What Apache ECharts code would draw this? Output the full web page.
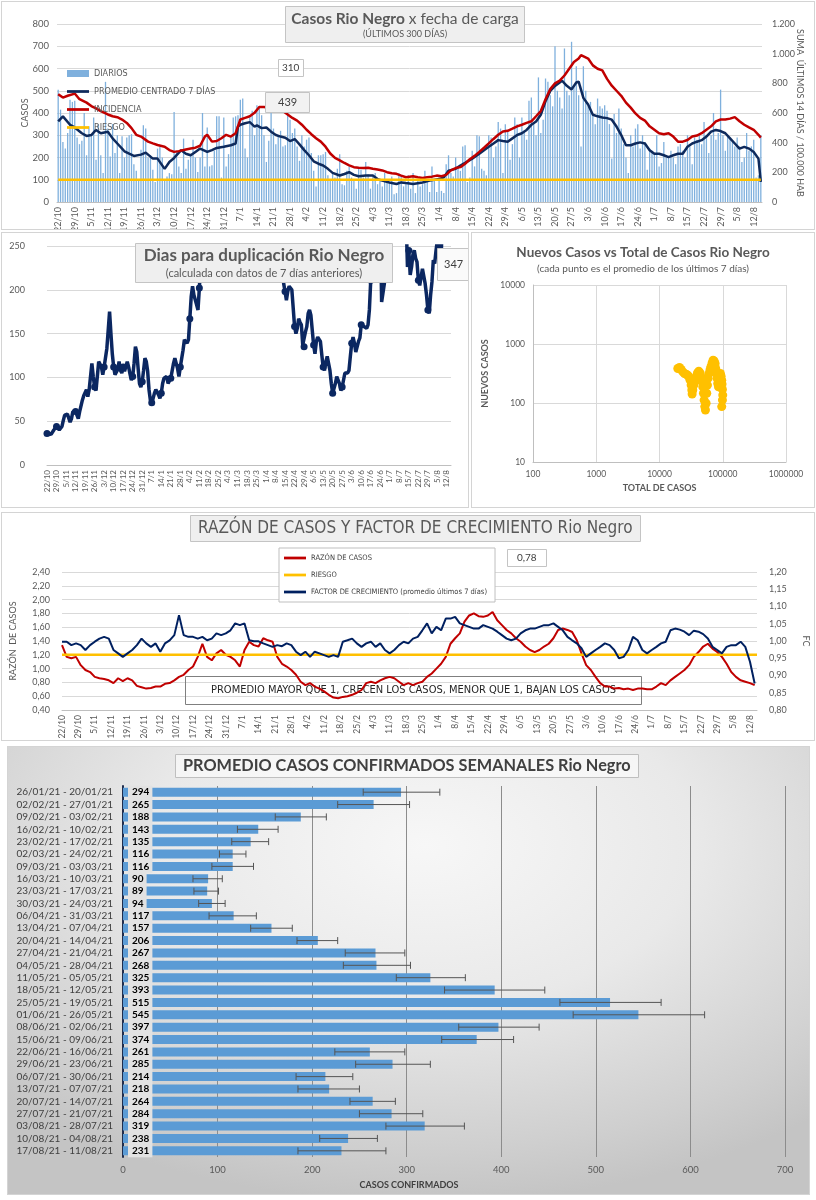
<!DOCTYPE html>
<html><head><meta charset="utf-8">
<script src="https://cdn.jsdelivr.net/npm/echarts@6/dist/echarts.min.js"></script>
<style>
body{margin:0;background:#fff;width:816px;height:1200px;position:relative;overflow:hidden}
.p{position:absolute;border:1px solid #d4d4d4;box-sizing:border-box;background:#fff}
#c5{background:radial-gradient(ellipse 75% 80% at 52% 22%, #f7f7f7 0%, #e9e9e9 45%, #cfcfcf 85%, #c4c4c4 100%)}
</style></head><body>
<div id="c1" class="p" style="left:1px;top:1px;width:814px;height:229px"></div>
<div id="c2" class="p" style="left:1px;top:232px;width:468px;height:276px"></div>
<div id="c3" class="p" style="left:471px;top:232px;width:344px;height:276px"></div>
<div id="c4" class="p" style="left:1px;top:512px;width:814px;height:229px"></div>
<div id="c5" class="p" style="left:7px;top:746px;width:803px;height:449px"></div>
<script>
// ---------- DATA ----------
const N_DAYS = 298; // 22/10/2020 .. 15/08/2021
const dates = [];
for (let i = 0; i < N_DAYS; i++) { const d = new Date(Date.UTC(2020, 9, 22 + i)); dates.push(d.getUTCDate() + '/' + (d.getUTCMonth() + 1)); }

// Panel 1: daily cases
const dailyCases = [
505,415,270,240,310,460,450, 455,290,260,275,400,210,340, 300,380,190,350,210,130,540,
330,205,350,220,300,130,295, 200,290,300,305,170,140,100, 235,345,330,200,210,145,90,
240,250,200,100,115,130,125, 405,230,160,130,285,150,190, 210,280,200,135,200,400,160,
335,160,165,230,385,385,110, 380,160,215,300,380,385,390, 460,465,240,200,380,410,300,
435,425,390,300,180,275,405, 330,260,300,320,250,255,445, 370,310,330,250,185,300,250,
280,290,220,140,70,210,210, 215,225,120,95,130,110,150, 215,80,75,140,160,110,95,
60,150,145,110,180,125,60, 115,130,80,95,70,130,100, 90,115,35,40,130,120,70,
85,120,60,130,40,100,70, 80,140,100,45,160,95,45, 110,50,40,170,210,130,115,
200,160,140,250,255,90,110, 230,160,300,295,150,140,120, 300,290,200,250,360,330,130,
350,320,190,260,380,350,200, 380,320,280,455,470,360,300, 560,310,370,555,540,480,430,
700,500,470,420,690,500,480, 720,520,610,480,250,610,500, 430,450,390,350,465,430,420,
435,410,350,195,395,310,420, 330,260,200,130,300,250,330, 350,240,300,270,145,240,230,
215,300,160,175,270,200,200, 230,200,170,250,260,230,200, 300,250,170,290,280,300,260,
360,300,220,300,400,280,310, 505,300,230,300,290,270,250, 290,250,180,200,310,230,250,
280,110,120,300];
// 7-day centred average [dayIndex, value]
const avg7 = [[0,362],[2,385],[5,347],[7,335],[10,309],[12,297],[14,301],[16,324],[18,309],[21,316],[23,286],[25,263],[27,240],[28,228],[30,217],[32,207],[35,213],[37,222],[40,195],[42,195],[45,149],[47,180],[49,198],[52,233],[54,217],[56,210],[58,225],[60,240],[63,225],[65,233],[67,243],[70,248],[73,255],[75,263],[76,339],[77,347],[79,354],[81,359],[83,339],[84,344],[86,332],[88,335],[90,316],[92,301],[94,294],[96,289],[98,274],[100,283],[102,259],[104,233],[106,210],[108,183],[110,172],[112,164],[114,149],[116,131],[119,119],[121,126],[123,134],[125,122],[127,116],[130,119],[133,119],[135,103],[137,96],[140,88],[143,81],[145,88],[147,85],[150,81],[154,88],[157,96],[161,103],[163,111],[165,141],[168,149],[170,164],[172,176],[175,195],[178,217],[180,233],[182,248],[184,263],[186,278],[188,274],[190,271],[192,286],[194,301],[196,309],[198,324],[200,347],[202,362],[204,392],[206,453],[208,499],[210,522],[212,537],[213,545],[215,522],[217,506],[219,537],[220,541],[222,468],[224,438],[226,392],[228,385],[230,380],[232,377],[234,370],[236,339],[238,301],[240,255],[242,255],[244,263],[246,268],[248,263],[250,233],[252,217],[254,217],[256,210],[258,202],[260,210],[262,217],[264,217],[266,248],[268,263],[270,271],[272,278],[274,294],[276,316],[278,324],[280,319],[282,309],[284,286],[286,263],[288,240],[290,248],[292,240],[294,225],[296,195],[297,90]];
// incidence per 100.000 (right axis) [dayIndex, value]
const incidencia = [[0,727],[2,704],[4,716],[7,731],[9,693],[12,670],[14,647],[16,631],[18,613],[21,590],[23,578],[25,572],[27,556],[29,533],[31,498],[33,453],[35,441],[38,407],[40,395],[42,384],[45,373],[47,350],[49,338],[51,343],[53,350],[56,361],[58,366],[60,379],[62,441],[63,453],[65,407],[67,411],[69,430],[71,453],[73,441],[75,464],[77,556],[79,567],[81,578],[83,601],[85,640],[87,640],[89,636],[91,631],[93,624],[95,613],[97,590],[99,567],[101,549],[103,521],[105,487],[107,457],[109,430],[111,407],[113,373],[115,327],[117,297],[119,281],[121,263],[123,247],[125,235],[127,231],[129,229],[131,231],[133,224],[135,219],[137,213],[139,201],[141,194],[143,190],[145,178],[147,167],[150,174],[152,167],[154,162],[156,167],[158,171],[160,178],[162,174],[164,183],[166,213],[168,229],[170,235],[172,258],[174,288],[176,311],[178,338],[180,366],[182,395],[184,425],[186,453],[188,475],[190,480],[192,494],[194,510],[196,521],[198,533],[200,544],[202,578],[204,613],[206,693],[208,761],[210,800],[212,818],[214,853],[216,898],[218,944],[220,967],[221,990],[224,967],[226,921],[228,898],[230,887],[232,830],[234,784],[236,750],[238,716],[240,670],[242,636],[244,597],[246,567],[248,549],[250,510],[252,487],[254,464],[256,457],[258,464],[260,441],[262,407],[264,407],[266,418],[268,441],[270,448],[272,464],[274,487],[276,510],[278,544],[280,556],[282,556],[284,562],[286,572],[288,544],[290,521],[292,503],[294,487],[296,453],[297,434]];
const riesgoCasos = [[0,100],[297,100]];

// Panel 2: doubling days [dayIndex, value] (values > 250 run off the top)
const duplicacion = [[0,36],[1,34],[3,35],[5,40],[7,44],[9,40],[11,44],[12,51],[13,57],[15,58],[17,49],[18,53],[19,61],[21,61],[22,60],[23,53],[24,61],[26,74],[27,79],[29,86],[30,78],[31,86],[32,101],[33,116],[34,101],[35,89],[36,85],[37,101],[38,118],[39,120],[40,112],[41,103],[42,112],[43,112],[44,133],[45,154],[46,175],[47,150],[48,127],[49,112],[50,103],[51,105],[52,109],[53,118],[54,108],[55,105],[56,112],[57,107],[58,108],[59,118],[60,112],[61,104],[62,97],[63,101],[64,116],[65,135],[66,129],[67,110],[68,93],[69,89],[70,95],[71,108],[72,122],[73,118],[74,107],[75,86],[76,74],[77,71],[78,76],[79,82],[80,86],[81,88],[82,80],[83,76],[84,82],[85,93],[86,99],[87,97],[88,101],[89,93],[90,92],[91,99],[92,101],[93,116],[94,122],[95,116],[96,110],[97,101],[98,112],[99,114],[100,131],[101,143],[102,145],[103,139],[104,143],[105,167],[106,192],[107,204],[108,194],[109,194],[110,183],[111,177],[112,202],[113,230],[114,290],[120,380],[130,450],[140,520],[150,480],[160,420],[170,330],[173,270],[174,207],[175,198],[176,188],[177,198],[178,204],[179,202],[180,200],[181,179],[182,158],[183,150],[184,156],[185,167],[186,163],[187,160],[188,137],[189,135],[190,152],[191,158],[192,173],[193,177],[194,171],[195,154],[196,137],[197,127],[198,141],[199,146],[200,148],[201,141],[202,126],[203,112],[204,108],[205,118],[206,124],[207,122],[208,108],[209,93],[210,82],[211,84],[212,93],[213,101],[214,99],[215,93],[216,85],[217,89],[218,97],[219,105],[220,107],[221,105],[222,108],[223,124],[224,139],[225,146],[226,139],[227,129],[228,127],[229,141],[230,145],[231,160],[232,162],[233,158],[234,158],[235,156],[236,160],[237,177],[238,211],[239,245],[240,290],[242,340],[244,320],[245,280],[246,186],[247,185],[248,207],[249,232],[250,275],[255,330],[260,360],[264,280],[265,226],[266,245],[267,217],[268,226],[269,240],[270,245],[271,236],[272,232],[273,211],[274,205],[275,207],[276,224],[277,226],[278,207],[279,194],[280,177],[281,173],[282,194],[283,209],[284,234],[285,230],[286,245],[287,257],[288,249],[289,250],[290,248],[291,347]];

// Panel 3: [total cases, new cases (7-day avg)]
const nuevosVsTotal = [[19460,384],[20700,399],[22000,369],[23350,337],[24830,316],[26360,308],[28000,296],[29040,278],[30480,244],[31620,201],[32430,166],[32810,142],[33590,166],[34830,201],[36140,229],[37930,278],[39810,324],[41790,346],[43850,324],[45500,278],[47210,229],[48310,188],[49550,146],[50700,112],[52000,87],[53210,76],[54580,99],[55850,146],[57280,201],[58610,261],[60810,316],[63100,369],[65460,421],[67920,479],[70310,531],[72950,517],[75680,467],[77450,384],[79430,316],[81470,261],[83370,214],[85510,188],[87500,229],[89740,278],[91830,316],[94190,285],[96390,244],[97500,209],[98850,170],[100000,136],[98850,112],[96390,87]];

// Panel 4: values every 2nd day (day = 2*i)
const razonCasos = [1.34,1.17,1.15,1.17,1.05,0.98,0.95,0.88,0.86,0.85,0.83,0.79,0.86,0.82,0.86,0.83,0.75,0.73,0.71,0.72,0.74,0.74,0.78,0.79,0.83,0.88,0.91,0.98,1.03,1.17,1.36,1.17,1.12,1.22,1.27,1.20,1.17,1.12,1.03,1.27,1.39,1.34,1.32,1.44,1.41,1.39,1.17,1.07,1.03,0.98,0.91,0.81,0.76,0.79,0.74,0.71,0.67,0.62,0.58,0.57,0.59,0.60,0.62,0.65,0.69,0.79,0.81,0.79,0.83,0.86,0.88,0.86,0.81,0.76,0.79,0.76,0.79,0.81,0.88,0.93,1.00,1.07,1.17,1.36,1.44,1.51,1.68,1.77,1.80,1.76,1.75,1.77,1.82,1.70,1.63,1.56,1.51,1.44,1.39,1.32,1.27,1.24,1.27,1.32,1.36,1.44,1.56,1.58,1.56,1.53,1.41,1.22,1.05,0.98,0.88,0.79,0.74,0.74,0.71,0.72,0.70,0.71,0.69,0.71,0.71,0.70,0.70,0.74,0.79,0.76,0.83,0.88,0.93,0.98,1.05,1.17,1.24,1.32,1.36,1.29,1.24,1.17,1.07,0.95,0.88,0.83,0.81,0.79,0.76];
const factorCrec = [0.998,0.998,0.988,0.993,0.988,0.974,0.988,0.998,1.007,1.012,1.007,0.974,0.964,0.954,0.964,0.974,0.988,1.007,0.993,0.983,0.993,0.969,0.993,1.002,1.017,1.075,1.017,1.012,1.012,1.007,1.012,1.002,1.007,1.022,1.017,1.022,1.031,1.051,1.046,1.051,1.002,0.999,0.999,0.993,0.988,0.983,0.988,0.985,0.993,0.988,0.969,0.959,0.969,0.954,0.969,0.964,0.959,0.954,0.959,0.954,0.998,1.002,1.007,0.993,0.983,0.993,0.998,0.983,0.993,0.974,0.964,0.974,0.988,0.998,0.993,1.007,1.012,1.031,1.051,1.022,1.041,1.031,1.065,1.065,1.070,1.051,1.046,1.041,1.036,1.036,1.046,1.041,1.036,1.027,1.017,1.007,1.002,1.007,1.022,1.031,1.036,1.036,1.041,1.046,1.046,1.051,1.041,1.031,1.012,1.002,0.993,0.979,0.954,0.964,0.974,0.983,0.993,0.988,0.974,0.950,0.954,0.974,1.012,1.002,0.974,0.964,0.974,0.983,0.993,0.998,1.031,1.036,1.033,1.027,1.017,1.030,1.027,1.020,1.007,0.983,0.974,0.964,0.983,0.988,0.988,0.998,0.983,0.940,0.877];
const riesgoRazon = [[0,1.2],[297,1.2]];

// Panel 5
const semanas = ['26/01/21 - 20/01/21','02/02/21 - 27/01/21','09/02/21 - 03/02/21','16/02/21 - 10/02/21','23/02/21 - 17/02/21','02/03/21 - 24/02/21','09/03/21 - 03/03/21','16/03/21 - 10/03/21','23/03/21 - 17/03/21','30/03/21 - 24/03/21','06/04/21 - 31/03/21','13/04/21 - 07/04/21','20/04/21 - 14/04/21','27/04/21 - 21/04/21','04/05/21 - 28/04/21','11/05/21 - 05/05/21','18/05/21 - 12/05/21','25/05/21 - 19/05/21','01/06/21 - 26/05/21','08/06/21 - 02/06/21','15/06/21 - 09/06/21','22/06/21 - 16/06/21','29/06/21 - 23/06/21','06/07/21 - 30/06/21','13/07/21 - 07/07/21','20/07/21 - 14/07/21','27/07/21 - 21/07/21','03/08/21 - 28/07/21','10/08/21 - 04/08/21','17/08/21 - 11/08/21'];
const promedioSemanal = [294,265,188,143,135,116,116,90,89,94,117,157,206,267,268,325,393,515,545,397,374,261,285,214,218,264,284,319,238,231];
const errorBajo = [254,227,161,121,115,102,94,74,75,80,91,135,184,235,233,289,340,462,476,355,337,224,246,183,185,240,250,278,208,185];
const errorAlto = [335,303,215,164,154,130,138,105,101,108,141,179,227,298,304,362,446,569,615,440,413,298,325,243,250,288,317,361,269,278];

// ---------- CHARTS ----------
const FONT = "Lato, 'Noto Sans', sans-serif";
const NARROW = "'Liberation Sans Narrow', 'DejaVu Sans Condensed', sans-serif";
const GRAY = '#595959';
const LINE_ICON = 'path://M0 0H40V5H0Z';
const comma2 = v => v.toFixed(2).replace('.', ',');
const thousands = v => String(v).replace(/\B(?=(\d{3})+(?!\d))/g, '.');
const every2 = arr => arr.map((v, i) => [i * 2, v]);
const dateAxis = (boundaryGap, fs) => ({
  type: 'category', data: dates, boundaryGap,
  axisLine: { lineStyle: { color: '#bfbfbf' } }, axisTick: { show: false },
  axisLabel: { interval: 6, rotate: 90, fontSize: fs, color: GRAY, margin: 5, fontFamily: FONT }
});

// Panel 1
echarts.init(document.getElementById('c1')).setOption({
  animation: false, textStyle: { fontFamily: FONT },
  title: [
    { text: '{b|Casos Rio Negro} x fecha de carga', subtext: '(ÚLTIMOS 300 DÍAS)', left: 397, top: 4, textAlign: 'center',
      backgroundColor: '#efefef', borderColor: '#c4c4c4', borderWidth: 1, padding: [5, 6, 4, 6], itemGap: 3,
      textStyle: { fontSize: 15.5, fontWeight: 'normal', color: GRAY, rich: { b: { fontSize: 15.5, fontWeight: 'bold', color: GRAY } } },
      subtextStyle: { fontSize: 9, color: GRAY } },
    { text: '310', left: 276, top: 57, backgroundColor: '#fff', borderColor: '#c4c4c4', borderWidth: 1, padding: [4, 4],
      textStyle: { fontSize: 10, fontWeight: 'normal', color: '#404040' } },
    { text: '439', left: 263, top: 90, backgroundColor: '#f2f2f2', borderColor: '#c4c4c4', borderWidth: 1, padding: [5, 13],
      textStyle: { fontSize: 11, fontWeight: 'normal', color: '#404040' } }
  ],
  legend: { orient: 'vertical', left: 60, top: 62, itemWidth: 22, itemHeight: 7, itemGap: 9,
    textStyle: { fontSize: 9, color: GRAY, fontFamily: NARROW },
    data: [{ name: 'DIARIOS', icon: 'rect' }, { name: 'PROMEDIO CENTRADO 7 DÍAS', icon: LINE_ICON }, { name: 'INCIDENCIA', icon: LINE_ICON }, { name: 'RIESGO', icon: LINE_ICON }] },
  grid: { left: 55, right: 52, top: 22, bottom: 27, outerBoundsMode: 'none', containLabel: false },
  xAxis: dateAxis(true, 9),
  yAxis: [
    { type: 'value', min: 0, max: 800, interval: 100, name: 'CASOS', nameLocation: 'middle', nameGap: 27, nameMoveOverlap: false,
      nameTextStyle: { fontSize: 9, color: GRAY }, axisLabel: { fontSize: 9.5, color: GRAY },
      splitLine: { lineStyle: { color: '#d9d9d9' } }, axisLine: { show: false }, axisTick: { show: false } },
    { type: 'value', min: 0, max: 1200, interval: 200, position: 'right', name: 'SUMA  ÚLTIMOS 14 DÍAS / 100.000 HAB',
      nameLocation: 'middle', nameRotate: -90, nameGap: 33, nameMoveOverlap: false, nameTextStyle: { fontSize: 9, color: GRAY },
      axisLabel: { fontSize: 9, color: GRAY, formatter: thousands, margin: 10 }, splitLine: { show: false }, axisLine: { show: false }, axisTick: { show: false } }
  ],
  series: [
    { name: 'DIARIOS', type: 'bar', data: dailyCases, barWidth: '55%', itemStyle: { color: '#7FB0DD' } },
    { name: 'PROMEDIO CENTRADO 7 DÍAS', type: 'line', data: avg7, symbol: 'none', color: '#0E2A5C', lineStyle: { width: 2.5, color: '#0E2A5C' } },
    { name: 'INCIDENCIA', type: 'line', yAxisIndex: 1, data: incidencia, symbol: 'none', color: '#C00000', lineStyle: { width: 2.5, color: '#C00000' } },
    { name: 'RIESGO', type: 'line', data: riesgoCasos, symbol: 'none', color: '#FFC000', lineStyle: { width: 2.5, color: '#FFC000' } }
  ]
});

// Panel 2
echarts.init(document.getElementById('c2')).setOption({
  animation: false, textStyle: { fontFamily: FONT },
  title: [
    { text: 'Dias para duplicación Rio Negro', subtext: '(calculada con datos de 7 días anteriores)', left: 254, top: 10, textAlign: 'center',
      backgroundColor: '#efefef', borderColor: '#c4c4c4', borderWidth: 1, padding: [4, 8, 4, 8], itemGap: 4,
      textStyle: { fontSize: 17, fontWeight: 'bold', color: GRAY }, subtextStyle: { fontSize: 11, color: GRAY } },
    { text: '347', left: 435, top: 15, backgroundColor: '#fafafa', borderColor: '#c4c4c4', borderWidth: 1, padding: [11, 7],
      textStyle: { fontSize: 11, fontWeight: 'normal', color: '#404040' } }
  ],
  grid: { left: 45, right: 17, top: 13, bottom: 42, outerBoundsMode: 'none', containLabel: false },
  xAxis: dateAxis(false, 8),
  yAxis: { type: 'value', min: 0, max: 250, interval: 50, axisLabel: { fontSize: 9, color: GRAY, margin: 22 },
    splitLine: { lineStyle: { color: '#d9d9d9' } }, axisLine: { show: false }, axisTick: { show: false } },
  series: [{ type: 'line', data: duplicacion, clip: true, symbol: 'circle', symbolSize: 7,
    itemStyle: { color: '#0B2761' }, lineStyle: { width: 3.5, color: '#0B2761' } }]
});

// Panel 3
echarts.init(document.getElementById('c3')).setOption({
  animation: false, textStyle: { fontFamily: FONT },
  title: { text: 'Nuevos Casos vs Total de Casos Rio Negro', subtext: '(cada punto es el promedio de los últimos 7 días)', left: 'center', top: 8,
    itemGap: 4, textStyle: { fontSize: 13.5, fontWeight: 'bold', color: GRAY }, subtextStyle: { fontSize: 10, color: GRAY } },
  grid: { left: 61, right: 28, top: 52, bottom: 45, outerBoundsMode: 'none', containLabel: false },
  xAxis: { type: 'log', logBase: 10, min: 100, max: 1000000, name: 'TOTAL DE CASOS', nameLocation: 'middle', nameGap: 22,
    nameTextStyle: { fontSize: 9, fontWeight: 'bold', color: GRAY }, axisLabel: { fontSize: 8.5, color: GRAY, formatter: v => String(Math.round(v)) },
    splitLine: { show: true, lineStyle: { color: '#d9d9d9' } }, axisLine: { lineStyle: { color: '#bfbfbf' } }, axisTick: { show: false } },
  yAxis: { type: 'log', logBase: 10, min: 10, max: 10000, name: 'NUEVOS CASOS', nameLocation: 'middle', nameGap: 34,
    nameTextStyle: { fontSize: 9, fontWeight: 'bold', color: GRAY }, axisLabel: { fontSize: 8.5, color: GRAY, formatter: v => String(Math.round(v)) },
    splitLine: { show: true, lineStyle: { color: '#d9d9d9' } }, axisLine: { show: true, lineStyle: { color: '#bfbfbf' } }, axisTick: { show: false } },
  series: [{ type: 'scatter', data: nuevosVsTotal, symbolSize: 9, itemStyle: { color: '#FFC000', opacity: 1 } }]
});

// Panel 4
echarts.init(document.getElementById('c4')).setOption({
  animation: false, textStyle: { fontFamily: FONT },
  title: [
    { text: 'RAZÓN DE CASOS Y FACTOR DE CRECIMIENTO Rio Negro', left: 188, top: 2, backgroundColor: '#efefef', borderColor: '#c4c4c4', borderWidth: 1,
      padding: [5, 8], textStyle: { fontSize: 17, fontWeight: 'normal', color: GRAY, fontFamily: NARROW } },
    { text: '0,78', left: 505, top: 36, backgroundColor: '#fff', borderColor: '#c4c4c4', borderWidth: 1, padding: [4, 10],
      textStyle: { fontSize: 10, fontWeight: 'normal', color: '#404040' } },
    { text: 'PROMEDIO MAYOR QUE 1, CRECEN LOS CASOS, MENOR QUE 1, BAJAN LOS CASOS', left: 183, top: 163, z: 1,
      borderColor: '#7f7f7f', borderWidth: 1, padding: [9, 26],
      textStyle: { fontSize: 11, fontWeight: 'normal', color: '#262626', fontFamily: NARROW } }
  ],
  legend: { orient: 'vertical', left: 277, top: 35, backgroundColor: '#fff', borderColor: '#bfbfbf', borderWidth: 1,
    padding: [6, 8, 6, 5], itemGap: 9, itemWidth: 22, itemHeight: 6, textStyle: { fontSize: 7.5, color: '#404040', fontFamily: NARROW },
    data: [{ name: 'RAZÓN DE CASOS', icon: LINE_ICON }, { name: 'RIESGO', icon: LINE_ICON }, { name: 'FACTOR DE CRECIMIENTO (promedio últimos 7 días)', icon: LINE_ICON }] },
  grid: { left: 60, right: 57, top: 59, bottom: 30, outerBoundsMode: 'none', containLabel: false },
  xAxis: dateAxis(false, 8.5),
  yAxis: [
    { type: 'value', min: 0.4, max: 2.4, interval: 0.2, name: 'RAZÓN  DE CASOS', nameLocation: 'middle', nameGap: 44,
      nameTextStyle: { fontSize: 9, color: GRAY }, axisLabel: { fontSize: 9, color: GRAY, formatter: comma2, margin: 12 },
      splitLine: { lineStyle: { color: '#d9d9d9' } }, axisLine: { show: false }, axisTick: { show: false } },
    { type: 'value', min: 0.8, max: 1.2, interval: 0.05, position: 'right', name: 'FC', nameLocation: 'middle', nameRotate: -90, nameGap: 44,
      nameTextStyle: { fontSize: 9, color: GRAY }, axisLabel: { fontSize: 9, color: GRAY, formatter: comma2, margin: 12 },
      splitLine: { show: false }, axisLine: { show: false }, axisTick: { show: false } }
  ],
  series: [
    { name: 'RAZÓN DE CASOS', type: 'line', data: every2(razonCasos), symbol: 'none', color: '#C00000', lineStyle: { width: 2, color: '#C00000' } },
    { name: 'RIESGO', type: 'line', data: riesgoRazon, symbol: 'none', color: '#FFC000', lineStyle: { width: 2.5, color: '#FFC000' } },
    { name: 'FACTOR DE CRECIMIENTO (promedio últimos 7 días)', type: 'line', yAxisIndex: 1, data: every2(factorCrec), symbol: 'none',
      color: '#002060', lineStyle: { width: 2, color: '#002060' } }
  ]
});

// Panel 5
echarts.init(document.getElementById('c5')).setOption({
  animation: false, backgroundColor: 'transparent', textStyle: { fontFamily: FONT },
  title: { text: 'PROMEDIO CASOS CONFIRMADOS SEMANALES Rio Negro', left: 167, top: 7, backgroundColor: 'rgba(255,255,255,0.55)',
    borderColor: '#bfbfbf', borderWidth: 1, padding: [4, 8], textStyle: { fontSize: 16.3, fontWeight: 'bold', color: '#404040' } },
  grid: { left: 115, right: 24, top: 39, bottom: 37, outerBoundsMode: 'none', containLabel: false },
  xAxis: { type: 'value', min: 0, max: 700, interval: 100, name: 'CASOS CONFIRMADOS', nameLocation: 'middle', nameGap: 24,
    nameTextStyle: { fontSize: 9, fontWeight: 'bold', color: '#404040', padding: [0, 90, 0, 0] },
    axisLabel: { fontSize: 9.5, color: GRAY }, splitLine: { lineStyle: { color: '#8c8c8c' } }, axisLine: { show: false }, axisTick: { show: false } },
  yAxis: { type: 'category', inverse: true, data: semanas, name: 'DIAS', nameLocation: 'middle', nameGap: 93,
    nameTextStyle: { fontSize: 8.5, fontWeight: 'bold', color: '#404040' },
    axisLine: { show: true, lineStyle: { color: '#1f2d4d', width: 2 } }, axisTick: { show: false },
    axisLabel: { interval: 0, fontSize: 10, color: '#404040', margin: 10 } },
  series: [
    { type: 'bar', data: promedioSemanal, barWidth: 9, itemStyle: { color: '#5B9BD5' },
      label: { show: true, position: 'insideLeft', distance: 5, color: '#000', fontWeight: 'bold', fontSize: 10,
        backgroundColor: '#e2e2e2', padding: [2, 3, 1, 4] } },
    { type: 'custom', z: 5, data: promedioSemanal.map((v, i) => [i, errorBajo[i], errorAlto[i]]), encode: { y: 0, x: [1, 2] },
      renderItem: (params, api) => {
        const c = api.value(0);
        const lo = api.coord([api.value(1), c]);
        const hi = api.coord([api.value(2), c]);
        const h = 3.5, st = { stroke: '#555', lineWidth: 1 };
        return { type: 'group', children: [
          { type: 'line', shape: { x1: lo[0], y1: lo[1], x2: hi[0], y2: hi[1] }, style: st },
          { type: 'line', shape: { x1: lo[0], y1: lo[1] - h, x2: lo[0], y2: lo[1] + h }, style: st },
          { type: 'line', shape: { x1: hi[0], y1: hi[1] - h, x2: hi[0], y2: hi[1] + h }, style: st }
        ] };
      } }
  ]
});
</script>
</body></html>
